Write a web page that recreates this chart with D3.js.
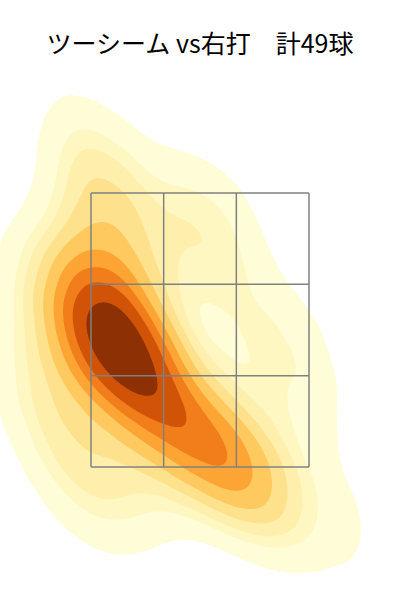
<!DOCTYPE html>
<html>
<head>
<meta charset="utf-8">
<script src="https://cdn.jsdelivr.net/npm/d3@7"></script>
<style>
  body { margin: 0; background: #fff; }
  svg { display: block; }
</style>
</head>
<body>
<div id="chart"></div>
<script>
var width = 400,
    height = 600;

var title = "ツーシーム vs右打\u3000計49球";

// pitch locations (feet, catcher view)
var plateX = [-0.82, -0.76, -0.70, -0.85, -0.67, -0.61, -0.72, -0.57, -0.62, -0.52, -0.46, -0.46,
              -0.76, -0.85, -0.69, -0.80, -0.67, -0.69, -0.76, -0.80,
              -0.38, -0.27, -0.15, 0.00, 0.11, 0.21, 0.29, -0.11,
              0.42, 0.53, 1.03,
              0.65, 0.76, 0.38,
              0.04, -0.15, 0.11,
              -1.26, -1.26, -1.10, -0.99,
              -0.84, -0.61, -0.38,
              0.04, -0.30, -0.46, 0.34,
              -1.07];
var plateZ = [2.59, 2.54, 2.49, 2.35, 2.39, 2.35, 2.32, 2.28, 2.22, 2.19, 2.12, 2.39,
              2.72, 2.79, 2.86, 3.05, 3.23, 3.45, 3.59, 3.81,
              2.03, 1.95, 1.84, 1.77, 1.66, 1.57, 1.51, 1.70,
              1.41, 1.26, 1.11,
              2.50, 1.99, 1.48,
              3.38, 3.08, 3.19,
              2.86, 2.14, 1.84, 1.62,
              1.26, 1.48, 1.41,
              1.59, 2.28, 2.72, 2.39,
              2.43];

// strike zone edges
var zoneX = [-0.83, 0.83];
var zoneZ = [1.5, 3.5];

// iso-proportion levels like seaborn kdeplot (levels=10, thresh=0.05)
var levels = d3.range(10).map(function(i) { return 0.05 + i * 0.95 / 9; });
var bwAdjust = 0.95;

var x = d3.scaleLinear().domain(zoneX).range([91, 309]);
var y = d3.scaleLinear().domain(zoneZ).range([467, 193]);

var svg = d3.select("#chart")
    .append("svg")
    .attr("width", width)
    .attr("height", height);

// gaussian kde with full covariance (scott's rule): whiten, blur, map back
var px = plateX.map(function(d) { return x(d); }),
    py = plateZ.map(function(d) { return y(d); }),
    n = px.length,
    mx = d3.mean(px), my = d3.mean(py),
    sxx = d3.sum(px, function(d) { return (d - mx) * (d - mx); }) / (n - 1),
    syy = d3.sum(py, function(d) { return (d - my) * (d - my); }) / (n - 1),
    sxy = d3.sum(px, function(d, i) { return (d - mx) * (py[i] - my); }) / (n - 1);
var la = Math.sqrt(sxx), lb = sxy / la, lc = Math.sqrt(syy - lb * lb);
var S = 100, C = 300, scott = Math.pow(n, -1 / 6) * bwAdjust;

var pitches = px.map(function(d, i) {
    var u = (d - mx) / la;
    var v = ((py[i] - my) - lb * u) / lc;
    return {u: C + S * u, v: C + S * v};
});

var unwhiten = d3.geoTransform({
    point: function(a, b) {
        var u = (a - C) / S, v = (b - C) / S;
        this.stream.point(mx + la * u, my + lb * u + lc * v);
    }
});

var cell = 2, pow4k = cell * cell;
var levelValues = [];

var density = d3.contourDensity()
    .x(function(d) { return d.u; })
    .y(function(d) { return d.v; })
    .size([2 * C, 2 * C])
    .cellSize(cell)
    .bandwidth(scott * S)
    .thresholds(function(values) {
        var sorted = Array.from(values).sort(function(a, b) { return b - a; });
        var total = d3.sum(sorted);
        var cum = 0, cums = [];
        for (var i = 0; i < sorted.length; i++) { cum += sorted[i]; cums.push(cum / total); }
        levelValues = levels.map(function(q) {
            var idx = d3.bisectLeft(cums, 1 - q);
            if (idx >= sorted.length) idx = sorted.length - 1;
            return sorted[idx] / pow4k;
        });
        return levelValues.slice(0, 9);
    });

var contours = density(pitches);

var lo = levelValues[0], hi = levelValues[9];
var color = d3.scaleSequential(d3.interpolateYlOrBr).domain([lo, hi]);

svg.append("g")
    .selectAll("path")
    .data(contours)
    .enter()
    .append("path")
    .attr("d", d3.geoPath(unwhiten))
    .attr("fill", function(d, i) { return color((levelValues[i] + levelValues[i + 1]) / 2); })
    .attr("stroke", "none");

// strike zone grid
var zone = svg.append("g")
    .attr("fill", "none")
    .attr("stroke", "#808080")
    .attr("stroke-width", 1.5);

var colX = d3.range(4).map(function(i) { return zoneX[0] + i * (zoneX[1] - zoneX[0]) / 3; });
var rowZ = d3.range(4).map(function(i) { return zoneZ[0] + i * (zoneZ[1] - zoneZ[0]) / 3; });

zone.selectAll("line.v")
    .data(colX)
    .enter()
    .append("line")
    .attr("x1", function(d) { return x(d); })
    .attr("x2", function(d) { return x(d); })
    .attr("y1", y(zoneZ[0]))
    .attr("y2", y(zoneZ[1]));

zone.selectAll("line.h")
    .data(rowZ)
    .enter()
    .append("line")
    .attr("y1", function(d) { return y(d); })
    .attr("y2", function(d) { return y(d); })
    .attr("x1", x(zoneX[0]))
    .attr("x2", x(zoneX[1]));

svg.append("text")
    .attr("x", width / 2)
    .attr("y", 53)
    .attr("text-anchor", "middle")
    .style("font-family", "'Noto Sans CJK JP', 'Noto Sans', sans-serif")
    .style("font-size", "25px")
    .style("fill", "#000")
    .text(title);
</script>
</body>
</html>
